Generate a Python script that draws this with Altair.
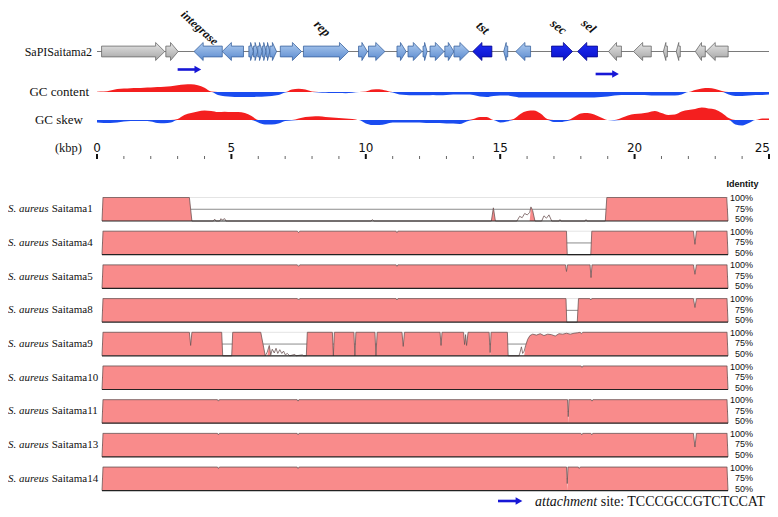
import altair as alt
import pandas as pd

# ------------------------------------------------------------------ DATA
# SaPISaitama2 gene map (kbp), strand (+1 = rightward, -1 = leftward), kind
GENE_START = [0.17, 2.56, 3.61, 4.66, 5.65, 5.82, 5.98, 6.15, 6.29, 6.43, 6.82, 7.68, 9.73, 10.10,
              11.16, 11.57, 12.13, 12.39, 12.94, 13.28, 13.98, 15.13, 15.58, 16.91, 17.88,
              19.03, 19.96, 21.07, 21.55, 22.26, 22.66]
GENE_END = [2.52, 3.02, 4.66, 5.45, 5.82, 5.98, 6.15, 6.29, 6.43, 6.68, 7.61, 9.36, 10.06, 10.71,
            11.50, 12.09, 12.28, 12.91, 13.28, 13.84, 14.69, 15.28, 16.13, 17.69, 18.62,
            19.51, 20.62, 21.22, 21.70, 22.63, 23.48]
GENE_STRAND = [1, 1, -1, -1, 1, 1, 1, 1, 1, 1, 1, 1, 1, 1,
               1, 1, 1, 1, 1, 1, -1, -1, -1, 1, -1,
               -1, -1, -1, -1, -1, -1]
GENE_KIND = ["host", "host", "sapi", "sapi", "sapi", "sapi", "sapi", "sapi", "sapi", "sapi",
             "sapi", "sapi", "sapi", "sapi", "sapi", "sapi", "sapi", "sapi", "sapi", "sapi",
             "toxin", "sapi", "sapi", "toxin", "toxin",
             "host", "host", "host", "host", "host", "host"]

GENE_LABELS = ["integrase", "rep", "tst", "sec", "sel"]
GENE_LABEL_KBP = [3.82, 8.38, 14.35, 17.17, 18.29]

# attachment sites (kbp)
ATT_START = [3.00, 18.55]
ATT_END = [3.90, 19.44]

# GC content / GC skew deviation from the track mean, sampled every 0.25 kbp
GC_STEP = 0.25
GC_CONTENT = [0.3, 0.4, 1.5, 3.0, 3.5, 3.8, 4.0, 4.3, 4.5, 5.0, 5.3, 5.8, 6.8, 7.5, 7.8, 6.8,
              4.3, 0.5, -3.0, -4.3, -4.8, -5.0, -5.0, -5.0, -4.8, -4.5, -4.0, -3.0,
              -0.5, 2.5, 3.3, 2.5, 0.5, -0.5, -0.8, -1.0, -1.0, -1.2, -0.8, 0.0,
              0.5, 2.5, 2.8, 1.5, -0.5, -2.5, -3.0, -3.3, -3.3, -3.3, -3.0, -3.3,
              -3.0, -2.5, -2.5, -2.5, -3.0, -4.5, -5.0, -4.0, -3.5, -3.5, -4.5, -5.5,
              -5.5, -5.5, -5.5, -5.5, -5.5, -5.5, -5.5, -5.5, -5.5, -5.5, -5.5, -5.0,
              -4.5, -3.5, -3.0, -3.0, -3.0, -3.0, -3.3, -3.5, -3.5, -3.5, -3.5, -2.5,
              0.0, 2.0, 3.5, 4.0, 3.0, 1.0, -2.5, -4.0, -4.0, -3.5, -3.0, -3.0, -2.5]
GC_SKEW = [-2.5, -3.0, -3.0, -2.5, -1.5, -1.0, -1.0, -1.0, -1.5, -3.0, -3.3, -2.5,
           1.0, 5.0, 7.0, 8.5, 9.5, 9.0, 8.0, 8.3, 8.0, 8.0, 7.0, 4.0,
           -2.5, -4.5, -4.5, -3.5, -1.0, -0.5, 1.5, 3.0, 3.5, 3.8, 3.0, 2.5,
           2.0, 1.5, 1.0, 0.0, -3.5, -5.0, -5.0, -4.0, -2.5, -2.5, -2.5, -2.5,
           -2.5, -3.0, -3.0, -3.0, -3.5, -3.5, -4.0, -1.5, 1.0, 3.0, 3.0, 0.0,
           -2.5, -1.5, 1.0, 6.0, 9.0, 9.5, 6.5, 1.0, -2.0, -2.0, -1.0, 3.0,
           6.5, 7.0, 5.5, 2.5, 0.0, -0.5, 2.0, 4.5, 6.0, 6.5, 7.5, 9.0,
           7.0, 5.0, 5.5, 8.5, 10.0, 11.0, 12.5, 11.5, 10.5, 7.0, 2.0, -4.5,
           -5.5, -3.0, 0.0, 1.5, 1.5]

MAJOR_TICKS = [0, 5, 10, 15, 20, 25]
MINOR_TICKS = [1, 2, 3, 4, 6, 7, 8, 9, 11, 12, 13, 14, 16, 17, 18, 19, 21, 22, 23, 24]

# mVISTA identity profiles (kbp along alignment, % identity)
STRAINS = ["Saitama1", "Saitama4", "Saitama5", "Saitama8", "Saitama9",
           "Saitama10", "Saitama11", "Saitama13", "Saitama14"]
S1_X = [0, 0.04, 3.49, 3.59, 4.45, 4.5, 4.55, 4.7, 4.75, 4.8, 4.9, 4.95, 5.0, 10.75, 10.8, 10.85,
        15.55, 15.63, 15.71, 16.57, 16.68, 16.78, 16.88, 16.98, 17.08, 17.13, 17.2, 17.29,
        17.56, 17.65, 17.75, 17.85, 17.96, 18.25, 18.29, 18.33, 19.29, 19.33, 19.37, 20.10, 20.16, 24.95, 25.0]
S1_PID = [50, 100, 100, 50, 50, 54, 50, 50, 55, 52, 55, 50, 50, 50, 53, 50,
          50, 78, 50, 50, 60, 57, 66, 63, 68, 80, 72, 50,
          50, 61, 56, 63, 50, 50, 53, 50, 50, 53, 50, 50, 100, 100, 50]
S4_X = [0, 0.04, 7.8, 7.85, 7.9, 11.74, 11.78, 11.82, 18.55, 18.58, 19.52, 19.56,
        23.62, 23.68, 23.74, 24.96, 25.0]
S4_PID = [50, 100, 100, 97, 100, 100, 97, 100, 100, 50, 50, 100, 100, 72, 100, 100, 50]
S5_X = [0, 0.04, 7.8, 7.85, 7.9, 11.74, 11.78, 11.82, 18.51, 18.55, 18.59, 19.49, 19.53, 19.57,
        23.62, 23.68, 23.74, 24.96, 25.0]
S5_PID = [50, 100, 100, 97, 100, 100, 97, 100, 100, 86, 100, 100, 73, 100, 100, 80, 100, 100, 50]
S8_X = [0, 0.04, 7.8, 7.85, 7.9, 11.74, 11.78, 11.82, 18.53, 18.56, 18.98, 19.03,
        19.48, 19.52, 19.56, 23.62, 23.68, 23.74, 24.96, 25.0]
S8_PID = [50, 100, 100, 97, 100, 100, 97, 100, 100, 50, 50, 100, 100, 97, 100, 100, 81, 100, 100, 50]
S9_X = [0, 0.04, 3.49, 3.54, 3.59, 4.78, 4.82, 5.18, 5.22, 6.34, 6.52, 6.6, 6.68, 6.74, 6.8,
        6.88, 6.95, 7.02, 7.1, 7.18, 7.25, 7.32, 7.4, 7.5, 7.7, 7.75, 8.0, 8.05, 8.16, 8.2,
        9.2, 9.24, 9.28, 10.06, 10.1, 10.14, 10.9, 10.94, 10.99, 11.98, 12.03, 12.08,
        13.5, 13.54, 13.58, 14.44, 14.48, 14.52, 14.56, 14.62, 15.46, 15.5, 15.54,
        16.19, 16.22, 16.65, 16.69, 16.75, 16.8, 16.86, 16.92, 17.0, 17.09, 17.2, 17.35,
        17.5, 17.65, 17.8, 17.95, 18.1, 18.25, 18.4, 18.55, 18.7, 18.85, 19.0, 19.09,
        19.15, 19.2, 24.96, 25.0]
S9_PID = [50, 100, 100, 72, 100, 100, 50, 50, 100, 100, 50, 58, 72, 52, 64,
          56, 66, 55, 63, 55, 60, 52, 55, 50, 53, 50, 52, 50, 50, 100,
          100, 50, 100, 100, 50, 100, 100, 50, 100, 100, 70, 100,
          100, 72, 100, 100, 74, 95, 72, 100, 100, 57, 100,
          100, 50, 50, 56, 69, 55, 60, 72, 85, 93, 96, 94,
          97, 93, 96, 95, 92, 97, 96, 98, 96, 98, 99, 100,
          97, 100, 100, 50]
S10_X = [0, 0.04, 19.13, 19.17, 19.21, 24.96, 25.0]
S10_PID = [50, 100, 100, 97, 100, 100, 50]
S11_X = [0, 0.04, 4.61, 4.65, 4.69, 7.79, 7.83, 7.87, 18.59, 18.62, 18.65, 19.53, 19.57, 19.61, 24.96, 25.0]
S11_PID = [50, 100, 100, 97, 100, 100, 97, 100, 100, 64, 100, 100, 97, 100, 100, 50]
S13_X = [0, 0.04, 4.61, 4.65, 4.69, 7.79, 7.83, 7.87, 19.12, 19.16, 19.2, 19.52, 19.56, 19.6,
         23.62, 23.68, 23.74, 24.96, 25.0]
S13_PID = [50, 100, 100, 97, 100, 100, 97, 100, 100, 97, 100, 100, 97, 100, 100, 71, 100, 100, 50]
S14_X = [0, 0.04, 4.61, 4.65, 4.69, 7.79, 7.83, 7.87, 18.55, 18.58, 18.61, 19.02, 19.06, 19.1, 24.96, 25.0]
S14_PID = [50, 100, 100, 97, 100, 100, 97, 100, 100, 65, 100, 100, 97, 100, 100, 50]

PROFILE_X = [S1_X, S4_X, S5_X, S8_X, S9_X, S10_X, S11_X, S13_X, S14_X]
PROFILE_PID = [S1_PID, S4_PID, S5_PID, S8_PID, S9_PID, S10_PID, S11_PID, S13_PID, S14_PID]

# ------------------------------------------------------------------ STYLE / LAYOUT
W, H = 762, 501
SERIF = "Liberation Serif"
SANS = "Liberation Sans"
RED, BLUE = "#F41F1F", "#1A4CF0"
PINK = "#F98B8B"
ARROW_BLUE = "#1717D6"

XG = alt.Scale(domain=[0, 25], range=[89, 761])      # genome map scale
XB = alt.Scale(domain=[0, 25], range=[94, 720])      # alignment panels scale
YG = alt.Scale(domain=[-1, 1], range=[52.5, 34.5])   # gene track
YC = alt.Scale(domain=[-10, 10], range=[94, 74])     # GC content track
YS = alt.Scale(domain=[-14, 14], range=[126, 98])    # GC skew track
HEAD_KBP, BODY = 0.34, 0.6
ROW_TOP0, ROW_PITCH, ROW_H = 189.5, 33.7, 23.5
LABEL_Y = {"integrase": 19.7, "rep": 20.5, "tst": 20, "sec": 19, "sel": 18}
LABEL_ANGLE = {"integrase": 42, "rep": 45, "tst": 40, "sec": 38, "sel": 40}
LABEL_SIZE = {"integrase": 12, "rep": 13, "tst": 13, "sec": 13, "sel": 13}

ONE = pd.DataFrame({"k": [0]})

def grad(c0, c1):
    return alt.LinearGradient(gradient="linear",
                              stops=[alt.GradientStop(color=c0, offset=0),
                                     alt.GradientStop(color=c1, offset=1)],
                              x1=0, x2=0, y1=0, y2=1)

layers = []

# ---- gene track
layers.append(alt.Chart(ONE).mark_rule(color="#7a7a7a", strokeWidth=1).encode(
    x=alt.X(datum=0, scale=XG, axis=None), x2=alt.datum(25), y=alt.value(43.5)))

# each gene arrow is traced as a closed outline built from its start, end and strand
poly = []
for g, (s, e, st, k) in enumerate(zip(GENE_START, GENE_END, GENE_STRAND, GENE_KIND)):
    h = min(HEAD_KBP, 0.62 * (e - s))
    if st > 0:
        pts = [(s, -BODY), (e - h, -BODY), (e - h, -1), (e, 0), (e - h, 1), (e - h, BODY),
               (s, BODY), (s, -BODY)]
    else:
        pts = [(e, -BODY), (s + h, -BODY), (s + h, -1), (s, 0), (s + h, 1), (s + h, BODY),
               (e, BODY), (e, -BODY)]
    for i, (x, y) in enumerate(pts):
        poly.append({"gene": g, "kind": k, "i": i, "x": x, "y": y})
gene_df = pd.DataFrame(poly)

kind_style = {
    "host": (grad("#E6E6E6", "#A4A4A4"), "#6A6A6A"),
    "sapi": (grad("#AECBEF", "#5A8ACF"), "#3C64A0"),
    "toxin": (grad("#1E2CF5", "#0A12C8"), "#08088C"),
}
for k, (fill, stroke) in kind_style.items():
    layers.append(alt.Chart(gene_df[gene_df.kind == k]).mark_line(
        fill=fill, stroke=stroke, strokeWidth=0.8, strokeJoin="miter").encode(
        x=alt.X("x:Q", scale=XG, axis=None),
        y=alt.Y("y:Q", scale=YG, axis=None),
        detail="gene:N", order="i:Q"))

for lab, kb in zip(GENE_LABELS, GENE_LABEL_KBP):
    layers.append(alt.Chart(pd.DataFrame({"x": [kb], "t": [lab]})).mark_text(
        font=SERIF, fontSize=LABEL_SIZE[lab], fontStyle="italic", fontWeight="bold",
        angle=LABEL_ANGLE[lab], align="center", baseline="middle", color="#111").encode(
        x=alt.X("x:Q", scale=XG, axis=None), y=alt.value(LABEL_Y[lab]), text="t:N"))

# attachment arrows
for j, ypx in enumerate([61.5, 66]):
    adf = pd.DataFrame({"s": [ATT_START[j]], "e": [ATT_END[j]]})
    layers.append(alt.Chart(adf).mark_rule(color=ARROW_BLUE, strokeWidth=2.6, x2Offset=-6).encode(
        x=alt.X("s:Q", scale=XG, axis=None), x2="e:Q", y=alt.value(ypx)))
    layers.append(alt.Chart(adf).mark_point(shape="triangle-right", filled=True, size=60,
                                            color=ARROW_BLUE, opacity=1, xOffset=-4).encode(
        x=alt.X("e:Q", scale=XG, axis=None), y=alt.value(ypx)))

# ---- GC tracks
gc_df = pd.DataFrame({"x": [i * GC_STEP for i in range(len(GC_CONTENT))],
                      "content": GC_CONTENT, "skew": GC_SKEW})
for field, ysc in [("content", YC), ("skew", YS)]:
    for expr, col in [(f"max(datum.{field}, 0)", RED), (f"min(datum.{field}, 0)", BLUE)]:
        layers.append(alt.Chart(gc_df).transform_calculate(v=expr).mark_area(
            color=col, interpolate="monotone").encode(
            x=alt.X("x:Q", scale=XG, axis=None),
            y=alt.Y("v:Q", scale=ysc, axis=None, stack=None),
            y2=alt.datum(0)))

# ---- kbp axis
layers.append(alt.Chart(pd.DataFrame({"k": MINOR_TICKS})).mark_rule(color="#666", strokeWidth=1).encode(
    x=alt.X("k:Q", scale=XG, axis=None), y=alt.value(148), y2=alt.value(151)))
maj = pd.DataFrame({"k": MAJOR_TICKS})
layers.append(alt.Chart(maj).mark_rule(color="#111", strokeWidth=2).encode(
    x=alt.X("k:Q", scale=XG, axis=None), y=alt.value(146), y2=alt.value(151)))
# last label is right-aligned so that it stays inside the page
layers.append(alt.Chart(maj).transform_filter("datum.k < 25").mark_text(
    font="DejaVu Sans", fontSize=12, color="#111", baseline="middle").encode(
    x=alt.X("k:Q", scale=XG, axis=None), y=alt.value(139.5),
    text=alt.Text("k:Q", format="d")))
layers.append(alt.Chart(maj).transform_filter("datum.k == 25").mark_text(
    font="DejaVu Sans", fontSize=12, color="#111", baseline="middle", align="right", dx=1).encode(
    x=alt.X("k:Q", scale=XG, axis=None), y=alt.value(139.5),
    text=alt.Text("k:Q", format="d")))

# ---- left labels of top section
for txt, xr, yy, fs in [("SaPISaitama2", 84, 43.5, 12), ("GC content", 81, 84, 13),
                        ("GC skew", 75, 112, 13), ("(kbp)", 74, 140, 12.5)]:
    layers.append(alt.Chart(ONE).mark_text(text=txt, font=SERIF, fontSize=fs, align="right",
                                           baseline="middle", color="#111").encode(
        x=alt.value(xr), y=alt.value(yy)))

# ---- identity panels
layers.append(alt.Chart(ONE).mark_text(text="Identity", font=SANS, fontSize=9, fontWeight="bold",
                                       align="center", baseline="middle", color="#111").encode(
    x=alt.value(734.5), y=alt.value(176)))

for r, name in enumerate(STRAINS):
    top = ROW_TOP0 + ROW_PITCH * r
    YR = alt.Scale(domain=[50, 100], range=[top + ROW_H, top])
    df = pd.DataFrame({"x": PROFILE_X[r], "pid": PROFILE_PID[r]})
    xq = alt.X("x:Q", scale=XB, axis=None)
    sub = [
        alt.Chart(ONE).mark_rule(color="#e4e4e4", strokeWidth=1).encode(
            x=alt.X(datum=0, scale=XB, axis=None), x2=alt.datum(25),
            y=alt.Y(datum=100, scale=YR, axis=None)),
        alt.Chart(ONE).mark_rule(color="#8c8c8c", strokeWidth=1).encode(
            x=alt.X(datum=0, scale=XB, axis=None), x2=alt.datum(25),
            y=alt.Y(datum=75, scale=YR, axis=None)),
        alt.Chart(df).transform_calculate(cons="datum.pid >= 70 ? datum.pid : 50").mark_area(
            color=PINK).encode(x=xq, y=alt.Y("cons:Q", scale=YR, axis=None, stack=None),
                               y2=alt.datum(50)),
        alt.Chart(df).mark_line(color="#6f5555", strokeWidth=0.8).encode(
            x=xq, y=alt.Y("pid:Q", scale=YR, axis=None)),
        alt.Chart(ONE).mark_rule(color="#222", strokeWidth=1.2).encode(
            x=alt.X(datum=0, scale=XB, axis=None), x2=alt.datum(25),
            y=alt.Y(datum=50, scale=YR, axis=None)),
        alt.Chart(ONE).mark_text(text="S. aureus", font=SERIF, fontSize=11, fontStyle="italic",
                                 align="left", baseline="middle", color="#111").encode(
            x=alt.value(0), y=alt.Y(datum=75, scale=YR, axis=None)),
        alt.Chart(ONE).mark_text(text=name, font=SERIF, fontSize=11,
                                 align="left", baseline="middle", color="#111").encode(
            x=alt.value(43.7), y=alt.Y(datum=75, scale=YR, axis=None)),
    ]
    for pv, lab, dy in [(100, "100%", 0.5), (75, "75%", -0.7), (50, "50%", -2)]:
        sub.append(alt.Chart(ONE).mark_text(text=lab, font=SANS, fontSize=9, align="right",
                                            baseline="middle", dy=dy, color="#111").encode(
            x=alt.value(745), y=alt.Y(datum=pv, scale=YR, axis=None)))
    layers.append(alt.layer(*sub))

# ---- legend
LEG_BASE = 497.5
layers.append(alt.Chart(ONE).mark_rule(color=ARROW_BLUE, strokeWidth=2.6).encode(
    x=alt.value(490), x2=alt.value(509), y=alt.value(LEG_BASE - 4.5)))
layers.append(alt.Chart(ONE).mark_point(shape="triangle-right", filled=True, size=60,
                                        color=ARROW_BLUE, opacity=1).encode(
    x=alt.value(511), y=alt.value(LEG_BASE - 4.5)))
layers.append(alt.Chart(ONE).mark_text(text="attachment", font=SERIF, fontSize=14, fontStyle="italic",
                                       align="left", baseline="alphabetic", color="#111").encode(
    x=alt.value(527), y=alt.value(LEG_BASE)))
layers.append(alt.Chart(ONE).mark_text(text="site: TCCCGCCGTCTCCAT", font=SERIF, fontSize=14,
                                       align="left", baseline="alphabetic", color="#111").encode(
    x=alt.value(592.7), y=alt.value(LEG_BASE)))

chart = alt.layer(*layers).resolve_scale(x="independent", y="independent").properties(
    width=W, height=H, autosize=alt.AutoSizeParams(type="none"), padding=0
).configure_view(stroke=None)

chart.save("out.html", embed_options={"renderer": "svg", "actions": False})
